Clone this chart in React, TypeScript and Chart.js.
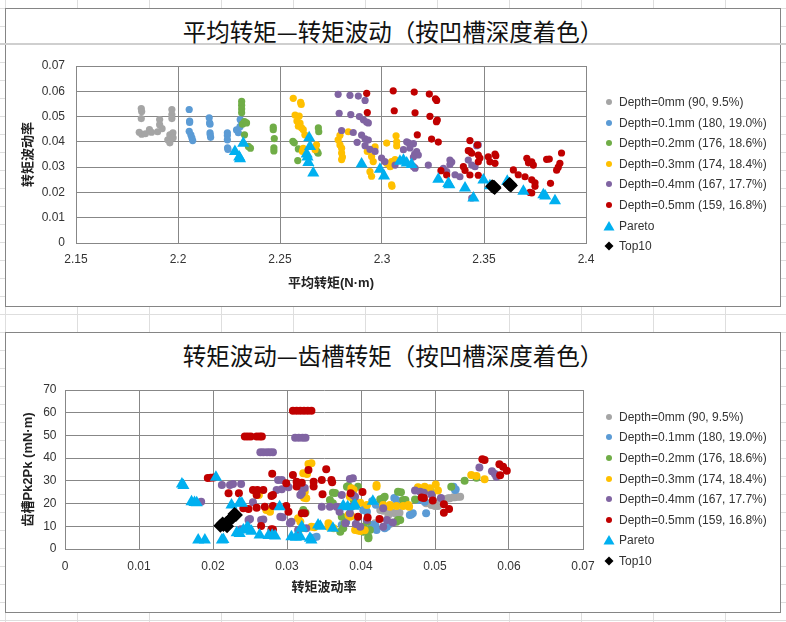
import { useEffect, useRef } from "react";
import { Chart, registerables } from "chart.js";

Chart.register(...registerables);

type Pt = [number, number];

const seriesNames = [
  "Depth=0mm (90, 9.5%)",
  "Depth=0.1mm (180, 19.0%)",
  "Depth=0.2mm (176, 18.6%)",
  "Depth=0.3mm (174, 18.4%)",
  "Depth=0.4mm (167, 17.7%)",
  "Depth=0.5mm (159, 16.8%)",
  "Pareto",
  "Top10",
];
const seriesColors = ["#A5A5A5", "#5B9BD5", "#70AD47", "#FFC000", "#8064A2", "#C00000", "#00B0F0", "#000000"];

// chart 1: 平均转矩 (x) vs 转矩波动率 (y)
const avgD00: Pt[] = [
  [2.182, 0.0532], [2.1822, 0.052], [2.182, 0.0492], [2.181, 0.0438], [2.1822, 0.043], [2.184, 0.0432],
  [2.186, 0.0448], [2.187, 0.0438], [2.191, 0.0488], [2.191, 0.0468], [2.19, 0.044], [2.1922, 0.0452],
  [2.195, 0.0408], [2.196, 0.0396], [2.196, 0.0428], [2.197, 0.0528], [2.197, 0.0508], [2.197, 0.0492],
  [2.1975, 0.0436], [2.1976, 0.0416],
];
const avgD01: Pt[] = [
  [2.2055, 0.0528], [2.2057, 0.0482], [2.2057, 0.0477], [2.2055, 0.0442], [2.2063, 0.0428], [2.2068, 0.0416],
  [2.2072, 0.0405], [2.2153, 0.0495], [2.2155, 0.0475], [2.2157, 0.047], [2.2157, 0.0436], [2.2158, 0.0428],
  [2.216, 0.0418], [2.2242, 0.0436], [2.2242, 0.0425], [2.2242, 0.0408], [2.2243, 0.0376], [2.2245, 0.037],
  [2.2287, 0.0447], [2.2296, 0.0436], [2.2304, 0.046], [2.231, 0.0482], [2.2305, 0.0488],
];
const avgD02: Pt[] = [
  [2.2312, 0.056], [2.2312, 0.0545], [2.2312, 0.053], [2.2312, 0.0515], [2.2316, 0.047], [2.2326, 0.048],
  [2.2336, 0.0475], [2.2326, 0.0428], [2.2345, 0.0382], [2.2355, 0.0375], [2.2467, 0.0458], [2.2467, 0.0448],
  [2.2472, 0.0413], [2.247, 0.0376], [2.247, 0.0364], [2.2563, 0.0402], [2.257, 0.0396], [2.259, 0.0372],
  [2.2587, 0.0326], [2.2688, 0.0455], [2.269, 0.044], [2.2687, 0.0355], [2.2682, 0.0362],
];
const avgD03: Pt[] = [
  [2.2565, 0.0572], [2.2601, 0.0556], [2.2604, 0.0548], [2.2574, 0.0506], [2.2594, 0.0502], [2.2583, 0.0482],
  [2.2598, 0.0474], [2.2606, 0.0455], [2.2614, 0.0448], [2.259, 0.0462], [2.2622, 0.0428], [2.2614, 0.0374],
  [2.261, 0.0362], [2.2679, 0.0388], [2.2672, 0.0369], [2.2785, 0.0408], [2.2794, 0.0426], [2.2835, 0.044],
  [2.2794, 0.0388], [2.2802, 0.0375], [2.2802, 0.0356], [2.2806, 0.034], [2.2802, 0.033], [2.2928, 0.0362],
  [2.2949, 0.0342], [2.2957, 0.0322], [2.2966, 0.038], [2.2941, 0.0282], [2.2949, 0.0264], [2.3023, 0.0395],
  [2.3069, 0.0424], [2.3072, 0.04], [2.3072, 0.0384], [2.3047, 0.0322], [2.3064, 0.033], [2.3023, 0.0315],
  [2.304, 0.0302], [2.3047, 0.023], [2.3049, 0.0224],
];
const avgD04: Pt[] = [
  [2.2785, 0.0588], [2.2843, 0.0584], [2.2884, 0.0581], [2.2917, 0.0564], [2.279, 0.0513], [2.2847, 0.0508],
  [2.2889, 0.05], [2.2909, 0.0487], [2.2925, 0.0478], [2.2933, 0.0475], [2.2802, 0.0445], [2.2859, 0.0437],
  [2.29, 0.0427], [2.2917, 0.0412], [2.2933, 0.0407], [2.2878, 0.0398], [2.2917, 0.0385], [2.2941, 0.037],
  [2.2966, 0.0362], [2.2998, 0.0336], [2.3014, 0.0322], [2.3064, 0.0308], [2.3121, 0.04], [2.313, 0.0396],
  [2.3154, 0.0393], [2.3137, 0.0376], [2.3105, 0.0369], [2.317, 0.0361], [2.316, 0.0352], [2.3178, 0.0348],
  [2.3154, 0.034], [2.3162, 0.0296], [2.3154, 0.0302], [2.3227, 0.0308], [2.3333, 0.0328], [2.3342, 0.032],
  [2.3333, 0.031], [2.3301, 0.0295], [2.3317, 0.0282], [2.3358, 0.027], [2.3382, 0.0262], [2.3423, 0.0328],
  [2.344, 0.0308], [2.3456, 0.0302], [2.3472, 0.0388], [2.3464, 0.0385], [2.344, 0.0178],
];
const avgD05: Pt[] = [
  [2.2925, 0.0592], [2.2928, 0.0516], [2.3055, 0.0602], [2.306, 0.0523], [2.3158, 0.0597], [2.3162, 0.0515],
  [2.3232, 0.0589], [2.3262, 0.057], [2.3268, 0.0564], [2.3235, 0.0501], [2.3271, 0.0486], [2.3267, 0.048],
  [2.3173, 0.0428], [2.3243, 0.0411], [2.3276, 0.0399], [2.3431, 0.0405], [2.3468, 0.0388], [2.3423, 0.0365],
  [2.3431, 0.0363], [2.344, 0.0355], [2.3472, 0.0348], [2.348, 0.0336], [2.3521, 0.0341], [2.3554, 0.0352],
  [2.3558, 0.0345], [2.3529, 0.0321], [2.3554, 0.0315], [2.3472, 0.0321], [2.3399, 0.0302], [2.3407, 0.0287],
  [2.3431, 0.0269], [2.3472, 0.0268], [2.3289, 0.0286], [2.3317, 0.0269], [2.3644, 0.0289], [2.3668, 0.027],
  [2.3701, 0.0262], [2.3734, 0.025], [2.375, 0.0238], [2.375, 0.0224], [2.371, 0.0335], [2.3718, 0.0317],
  [2.3734, 0.0321], [2.3742, 0.0308], [2.3807, 0.0331], [2.382, 0.0332], [2.388, 0.0356], [2.3872, 0.0315],
  [2.3864, 0.03], [2.3856, 0.0288], [2.3826, 0.0236], [2.3734, 0.0198], [2.3725, 0.02],
];
const avgPareto: Pt[] = [
  [2.2279, 0.0362], [2.23, 0.034], [2.2304, 0.0333], [2.232, 0.0394], [2.2643, 0.0416], [2.2647, 0.0382],
  [2.2631, 0.0352], [2.2635, 0.034], [2.2639, 0.0318], [2.2663, 0.0277], [2.29, 0.0312], [2.299, 0.0292],
  [2.301, 0.0265], [2.3088, 0.0323], [2.3105, 0.0327], [2.3121, 0.0316], [2.3145, 0.031], [2.3276, 0.0252],
  [2.333, 0.023], [2.3325, 0.0235], [2.3407, 0.0218], [2.3448, 0.0178], [2.3497, 0.0249], [2.3529, 0.0226],
  [2.3614, 0.0244], [2.3693, 0.0205], [2.3791, 0.0191], [2.38, 0.0186], [2.3848, 0.0167],
];
const avgTop10: Pt[] = [
  [2.354, 0.0224], [2.3546, 0.0221], [2.3552, 0.0218], [2.3549, 0.0222],
  [2.3624, 0.0231], [2.3628, 0.0229], [2.3632, 0.0227], [2.3626, 0.0233],
];

// chart 2: 转矩波动率 (x) vs 齿槽转矩 Pk2Pk (y)
const cogD00: Pt[] = [
  [0.0419, 11.3], [0.0426, 17.2], [0.043, 16.8], [0.0435, 17.2], [0.0439, 16.4], [0.0443, 16.0], [0.0437, 15.0],
  [0.0448, 15.4], [0.0439, 11.0], [0.0452, 16.0], [0.0488, 20.1], [0.0493, 20.1], [0.0495, 19.4], [0.05, 18.9],
  [0.0504, 18.9], [0.0507, 21.6], [0.0511, 21.9], [0.0514, 21.9], [0.0518, 22.3], [0.052, 22.3], [0.0525, 22.8],
  [0.0527, 22.8], [0.0531, 23.0], [0.0534, 23.0],
];
const cogD01: Pt[] = [
  [0.0336, 5.0], [0.034, 5.4], [0.0374, 10.6], [0.038, 12.0], [0.0395, 13.8], [0.0403, 17.2], [0.0406, 17.9],
  [0.0408, 16.4], [0.0414, 10.6], [0.0419, 10.6], [0.0421, 8.4], [0.0432, 9.1], [0.0435, 9.8], [0.0439, 11.3],
  [0.0415, 21.0], [0.042, 19.5], [0.0445, 22.5], [0.0448, 21.6], [0.0466, 15.0], [0.0468, 15.2], [0.047, 15.7],
  [0.0477, 21.6], [0.0486, 20.8], [0.0488, 15.7], [0.0525, 27.4], [0.0527, 26.0], [0.0528, 26.2],
];
const cogD02: Pt[] = [
  [0.0322, 17.2], [0.0325, 16.0], [0.0362, 24.8], [0.0365, 24.6], [0.0358, 21.6], [0.0362, 20.1], [0.0374, 14.2],
  [0.0378, 11.3], [0.0376, 9.1], [0.0372, 7.6], [0.0381, 27.4], [0.0383, 27.7], [0.0396, 27.4], [0.039, 21.6],
  [0.0403, 7.6], [0.0403, 9.8], [0.0408, 12.0], [0.0412, 8.4], [0.041, 5.4], [0.041, 4.7], [0.0426, 21.9],
  [0.043, 22.3], [0.0428, 21.6], [0.0432, 23.0], [0.045, 25.2], [0.0454, 25.0], [0.0448, 12.0], [0.045, 12.8],
  [0.0453, 12.8], [0.0457, 21.6], [0.046, 21.6], [0.0473, 21.8], [0.0493, 26.0], [0.0522, 27.4], [0.054, 30.1],
  [0.0556, 31.4],
];
const cogD03: Pt[] = [
  [0.0329, 37.4], [0.0333, 37.7], [0.0322, 33.3], [0.0327, 33.0], [0.0324, 25.2], [0.0323, 22.6], [0.0326, 22.3],
  [0.0259, 24.1], [0.0262, 23.8], [0.0272, 17.2], [0.0277, 16.4], [0.0315, 13.5], [0.0318, 12.0], [0.032, 9.1],
  [0.0333, 9.8], [0.0337, 9.6], [0.0356, 9.8], [0.0356, 11.3], [0.0363, 9.1], [0.0385, 23.0], [0.0387, 26.7],
  [0.039, 26.0], [0.0383, 15.0], [0.0387, 14.5], [0.0385, 14.2], [0.0392, 8.4], [0.0396, 8.1], [0.0399, 7.9],
  [0.0401, 8.4], [0.0405, 8.2], [0.0399, 20.4], [0.0408, 19.4], [0.0421, 27.4], [0.0421, 28.2], [0.043, 18.6],
  [0.043, 19.4], [0.0439, 19.4], [0.0439, 18.6], [0.0448, 18.9], [0.0457, 18.9], [0.0465, 18.6], [0.0464, 19.4],
  [0.0477, 27.2], [0.0486, 27.4], [0.0493, 26.7], [0.0501, 28.4], [0.0504, 25.8], [0.0549, 32.6], [0.0556, 32.1],
  [0.0567, 30.7],
];
const cogD04: Pt[] = [
  [0.0311, 49.0], [0.0316, 49.0], [0.0321, 49.0], [0.0325, 49.0], [0.0264, 42.6], [0.0268, 42.6], [0.0273, 42.6],
  [0.0277, 42.6], [0.0281, 42.6], [0.0212, 28.2], [0.0223, 28.2], [0.0227, 28.6], [0.0238, 28.6], [0.0184, 20.8],
  [0.0254, 20.6], [0.0248, 12.8], [0.025, 13.2], [0.0265, 12.8], [0.0268, 13.0], [0.0238, 8.7], [0.0288, 30.4],
  [0.0293, 30.4], [0.0286, 26.0], [0.0293, 26.3], [0.0302, 27.2], [0.0318, 27.4], [0.0324, 26.9], [0.032, 24.5],
  [0.0318, 23.8], [0.0291, 14.2], [0.0294, 14.0], [0.0304, 11.3], [0.0306, 12.0], [0.0315, 8.4], [0.0326, 9.1],
  [0.0347, 18.6], [0.0358, 18.6], [0.0367, 18.6], [0.0371, 16.4], [0.0385, 15.7], [0.0387, 18.6], [0.0385, 30.8],
  [0.0389, 31.1], [0.0374, 23.8], [0.0389, 23.8], [0.0392, 23.0], [0.0379, 11.3], [0.0393, 11.0], [0.0399, 9.8],
  [0.0408, 12.8], [0.043, 9.8], [0.0435, 12.8], [0.0443, 11.7], [0.043, 17.9], [0.0473, 25.7], [0.048, 25.2],
  [0.0485, 24.8], [0.0495, 24.0], [0.0508, 22.5], [0.056, 35.9], [0.0577, 34.2], [0.0581, 33.0], [0.0583, 31.8],
];
const cogD05: Pt[] = [
  [0.0308, 60.9], [0.0313, 60.9], [0.0318, 60.9], [0.0323, 60.9], [0.0328, 60.9], [0.0333, 60.9],
  [0.0243, 49.5], [0.0247, 49.5], [0.0251, 49.5], [0.0259, 49.5], [0.0263, 49.5], [0.0266, 49.5],
  [0.0193, 31.3], [0.0197, 31.4], [0.0201, 31.5], [0.0221, 24.5], [0.0235, 24.5], [0.0254, 26.0], [0.026, 26.0],
  [0.0268, 26.0], [0.0259, 23.8], [0.0279, 23.3], [0.0281, 23.8], [0.0241, 17.9], [0.0248, 17.6], [0.0259, 18.2],
  [0.027, 18.6], [0.0281, 18.9], [0.0299, 18.9], [0.0302, 16.4], [0.032, 15.7], [0.0324, 15.7], [0.0265, 10.1],
  [0.0279, 8.7], [0.0281, 8.6], [0.028, 33.1], [0.0299, 28.9], [0.0308, 32.6], [0.0313, 29.6], [0.0313, 27.5],
  [0.032, 29.2], [0.0329, 34.8], [0.0336, 29.6], [0.0336, 27.5], [0.0347, 30.4], [0.0353, 35.1], [0.0348, 24.1],
  [0.036, 30.4], [0.0361, 29.4], [0.0386, 24.5], [0.0402, 25.1], [0.0396, 14.2], [0.0409, 13.9], [0.0425, 13.2],
  [0.0482, 22.7], [0.0485, 22.5], [0.0497, 21.3], [0.0512, 19.7], [0.0519, 17.6], [0.0512, 16.0], [0.0564, 39.5],
  [0.0567, 39.2], [0.0587, 37.3], [0.0592, 36.2], [0.0597, 34.5], [0.0588, 32.5],
];
const cogPareto: Pt[] = [
  [0.0158, 28.6], [0.016, 28.0], [0.0171, 20.8], [0.0175, 20.5], [0.0178, 20.4], [0.018, 4.0], [0.0189, 4.0],
  [0.0204, 31.6], [0.0212, 4.0], [0.0214, 4.2], [0.0225, 19.4], [0.0236, 20.4], [0.0239, 20.1], [0.0232, 7.2],
  [0.0236, 6.8], [0.0241, 8.4], [0.0246, 9.5], [0.0248, 9.1], [0.0252, 7.8], [0.0263, 6.2], [0.0275, 5.9],
  [0.028, 6.0], [0.0284, 5.7], [0.029, 18.6], [0.0306, 5.4], [0.0312, 5.2], [0.0318, 5.4], [0.032, 9.1],
  [0.032, 9.8], [0.0333, 4.0], [0.0331, 4.7], [0.0342, 10.6], [0.0345, 10.0], [0.0362, 9.1], [0.0376, 19.0],
  [0.0382, 18.6], [0.039, 18.8], [0.0392, 19.4], [0.0416, 21.0],
];
const cogTop10: Pt[] = [
  [0.021, 10.2], [0.0214, 10.6], [0.0218, 11.4], [0.0221, 12.3], [0.0224, 13.2],
  [0.0227, 14.1], [0.0231, 15.0], [0.0219, 10.0], [0.0229, 15.4], [0.0213, 11.2],
];

const avgXTicks = [2.15, 2.2, 2.25, 2.3, 2.35, 2.4];
const avgYTicks = [0, 0.01, 0.02, 0.03, 0.04, 0.05, 0.06, 0.07];
const cogXTicks = [0, 0.01, 0.02, 0.03, 0.04, 0.05, 0.06, 0.07];
const cogYTicks = [0, 10, 20, 30, 40, 50, 60, 70];

const LATIN = "'Liberation Sans', 'Noto Sans CJK SC', sans-serif";
const CJK = "'Noto Sans CJK SC', sans-serif";
const GRID = "#878787";

interface PanelProps {
  boxTop: number;
  boxHeight: number;
  canvasTop: number;
  canvasHeight: number;
  title: string;
  titleY: number;
  legendY: number;
  series: Pt[][];
  xTicks: number[];
  yTicks: number[];
  xTitle: string;
  yTitle: string;
  padding: { top: number; right: number; bottom: number; left: number };
  yWidth: number;
  xHeight: number;
  yTickPad: number;
  xTickPad: number;
  dotRadius: number;
}

function Marker({ i }: { i: number }) {
  const c = seriesColors[i];
  if (i === 6) return <svg width="12" height="12"><polygon points="6,1 11.5,10.5 0.5,10.5" fill={c} /></svg>;
  if (i === 7) return <svg width="12" height="12"><polygon points="6,1.5 10.5,6 6,10.5 1.5,6" fill={c} /></svg>;
  return <svg width="12" height="12"><circle cx="6" cy="6" r="3" fill={c} /></svg>;
}

function Panel(p: PanelProps) {
  const canvasRef = useRef<HTMLCanvasElement>(null);

  useEffect(() => {
    if (!canvasRef.current) return;
    const tickList = (list: number[]) => (s: any) => {
      s.ticks = list.map((v) => ({ value: v }));
    };
    const fmt = (v: any) => String(+Number(v).toFixed(4));
    const chart = new Chart(canvasRef.current, {
      type: "scatter",
      data: {
        datasets: p.series.map((pts, i) => ({
          label: seriesNames[i],
          data: pts.map(([x, y]) => ({ x, y })),
          backgroundColor: seriesColors[i],
          borderColor: seriesColors[i],
          borderWidth: 0,
          pointStyle: i === 6 ? "triangle" : i === 7 ? "rectRot" : "circle",
          pointRadius: i >= 6 ? 7 : p.dotRadius,
          order: p.series.length - i,
        })),
      },
      options: {
        responsive: false,
        animation: false,
        events: [],
        layout: { padding: p.padding },
        plugins: { legend: { display: false }, title: { display: false }, tooltip: { enabled: false } },
        scales: {
          x: {
            type: "linear",
            min: p.xTicks[0],
            max: p.xTicks[p.xTicks.length - 1],
            afterBuildTicks: tickList(p.xTicks),
            afterFit: (s: any) => {
              s.height = p.xHeight;
            },
            grid: { color: GRID, drawTicks: false, lineWidth: 1 },
            border: { color: GRID },
            ticks: { padding: p.xTickPad, color: "#333", font: { family: LATIN, size: 12 }, callback: fmt, maxRotation: 0 },
            title: { display: true, text: p.xTitle, color: "#222", font: { family: LATIN, size: 13, weight: "bold" } },
          },
          y: {
            type: "linear",
            min: p.yTicks[0],
            max: p.yTicks[p.yTicks.length - 1],
            afterBuildTicks: tickList(p.yTicks),
            afterFit: (s: any) => {
              s.width = p.yWidth;
            },
            grid: { color: GRID, drawTicks: false, lineWidth: 1 },
            border: { color: GRID },
            ticks: { padding: p.yTickPad, color: "#333", font: { family: LATIN, size: 12 }, callback: fmt },
            title: { display: true, text: p.yTitle, color: "#222", font: { family: LATIN, size: 13, weight: "bold" } },
          },
        },
      },
    });
    return () => chart.destroy();
  }, []);

  return (
    <>
      <div
        style={{
          position: "absolute",
          left: 5,
          top: p.boxTop,
          width: 776,
          height: p.boxHeight,
          boxSizing: "border-box",
          border: "1.5px solid #858585",
          background: "#fff",
        }}
      />
      <div
        style={{
          position: "absolute",
          left: 5,
          width: 776,
          top: p.titleY - 16,
          height: 32,
          lineHeight: "32px",
          textAlign: "center",
          fontFamily: CJK,
          fontSize: 23.5,
          color: "#111",
          zIndex: 2,
        }}
      >
        {p.title}
      </div>
      <canvas
        ref={canvasRef}
        width={786}
        height={p.canvasHeight}
        style={{ position: "absolute", left: 0, top: p.canvasTop, zIndex: 3 }}
      />
      {seriesNames.map((name, i) => (
        <div
          key={name}
          style={{
            position: "absolute",
            left: 603,
            top: p.legendY + i * 20.6 - 9,
            height: 18,
            display: "flex",
            alignItems: "center",
            fontFamily: LATIN,
            fontSize: 12,
            color: "#333",
            whiteSpace: "nowrap",
            zIndex: 4,
          }}
        >
          <Marker i={i} />
          <span style={{ marginLeft: 4 }}>{name}</span>
        </div>
      ))}
    </>
  );
}

export default function App() {
  useEffect(() => {
    document.body.style.margin = "0";
  }, []);

  return (
    <div
      style={{
        position: "relative",
        width: 786,
        height: 622,
        overflow: "hidden",
        background: "#fff",
        backgroundImage:
          "linear-gradient(to right, #dedede 1px, transparent 1px), linear-gradient(to bottom, #dedede 1px, transparent 1px)",
        backgroundSize: "72px 18px",
        backgroundPosition: "5px 8px",
      }}
    >
      <Panel
        boxTop={8}
        boxHeight={299}
        canvasTop={0}
        canvasHeight={310}
        title="平均转矩—转矩波动（按凹槽深度着色）"
        titleY={31}
        legendY={102}
        series={[avgD00, avgD01, avgD02, avgD03, avgD04, avgD05, avgPareto, avgTop10]}
        xTicks={avgXTicks}
        yTicks={avgYTicks}
        xTitle="平均转矩(N·m)"
        yTitle="转矩波动率"
        padding={{ top: 66, right: 200, bottom: 15, left: 17 }}
        yWidth={59}
        xHeight={52}
        yTickPad={11}
        xTickPad={9}
        dotRadius={3.6}
      />
      <Panel
        boxTop={332}
        boxHeight={281}
        canvasTop={320}
        canvasHeight={302}
        title="转矩波动—齿槽转矩（按凹槽深度着色）"
        titleY={355}
        legendY={416.7}
        series={[cogD00, cogD01, cogD02, cogD03, cogD04, cogD05, cogPareto, cogTop10]}
        xTicks={cogXTicks}
        yTicks={cogYTicks}
        xTitle="转矩波动率"
        yTitle="齿槽Pk2Pk (mN·m)"
        padding={{ top: 70, right: 203, bottom: 23, left: 17 }}
        yWidth={48}
        xHeight={50}
        yTickPad={8.5}
        xTickPad={10}
        dotRadius={4}
      />
      <div style={{ position: "absolute", left: 0, top: 43, width: 786, height: 2, background: "#cfcfcf", zIndex: 1 }} />
    </div>
  );
}
